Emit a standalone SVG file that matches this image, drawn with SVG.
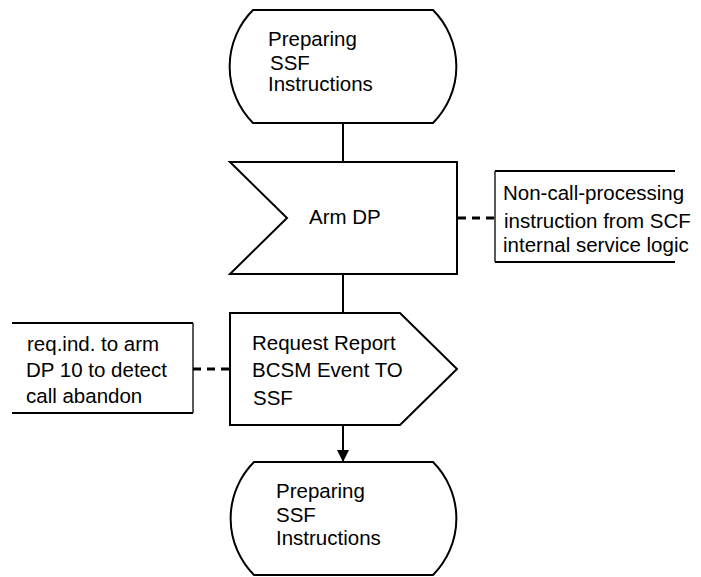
<svg xmlns="http://www.w3.org/2000/svg" width="701" height="577" viewBox="0 0 701 577">
<style>
.s{fill:#fff;stroke:#000;stroke-width:2;stroke-linejoin:miter}
.t{font-family:"Liberation Sans",Arial,sans-serif;font-size:20.5px;fill:#000}
.c{stroke:#000;stroke-width:2;fill:none}
.d{stroke:#000;stroke-width:3;stroke-dasharray:8 6;fill:none}
.h{stroke:#000;stroke-width:2;fill:none}
.v{stroke:#000;stroke-width:1.3;fill:none}
</style>
<defs>
<marker id="arr" viewBox="0 0 12 12" refX="12" refY="6" markerWidth="12" markerHeight="12" markerUnits="userSpaceOnUse" orient="auto">
<path d="M0,0 L12,6 L0,12 Z" fill="#000"/>
</marker>
</defs>
<g id="connectors">
<line class="c" x1="343" y1="123" x2="343" y2="162"/>
<line class="c" x1="343" y1="274" x2="343" y2="313"/>
<line class="c" x1="343" y1="425" x2="343" y2="462" marker-end="url(#arr)"/>
<line class="d" x1="458" y1="218" x2="495" y2="218"/>
<line class="d" x1="193" y1="369" x2="230" y2="369"/>
</g>
<g id="state1">
<path class="s" d="M253,10 L433,10 A80,80 0 0 1 433,123 L253,123 A80,80 0 0 1 253,10 Z"/>
<text class="t" x="268" y="46">Preparing</text>
<text class="t" x="270" y="70">SSF</text>
<text class="t" x="268" y="91">Instructions</text>
</g>
<g id="armdp">
<path class="s" d="M230,162 L457,162 L457,274 L230,274 L287,218 Z"/>
<text class="t" x="309" y="224">Arm DP</text>
</g>
<g id="note1">
<line class="h" x1="495" y1="171" x2="675" y2="171"/>
<line class="v" x1="495" y1="171" x2="495" y2="262"/>
<line class="h" x1="495" y1="262" x2="675" y2="262"/>
<text class="t" x="503" y="200">Non-call-processing</text>
<text class="t" x="504" y="228">instruction from SCF</text>
<text class="t" x="503" y="252">internal service logic</text>
</g>
<g id="request">
<path class="s" d="M230,313 L400,313 L457,369 L400,425 L230,425 Z"/>
<text class="t" x="252" y="350">Request Report</text>
<text class="t" x="252" y="377">BCSM Event TO</text>
<text class="t" x="253" y="405">SSF</text>
</g>
<g id="note2">
<line class="h" x1="12" y1="323" x2="193" y2="323"/>
<line class="v" x1="193" y1="323" x2="193" y2="413"/>
<line class="h" x1="12" y1="413" x2="193" y2="413"/>
<text class="t" x="27" y="351">req.ind. to arm</text>
<text class="t" x="26" y="377">DP 10 to detect</text>
<text class="t" x="26" y="403">call abandon</text>
</g>
<g id="state2">
<path class="s" d="M254,462 L433,462 A80,80 0 0 1 433,575 L254,575 A80,80 0 0 1 254,462 Z"/>
<text class="t" x="276" y="498">Preparing</text>
<text class="t" x="276" y="522">SSF</text>
<text class="t" x="276" y="545">Instructions</text>
</g>
</svg>
